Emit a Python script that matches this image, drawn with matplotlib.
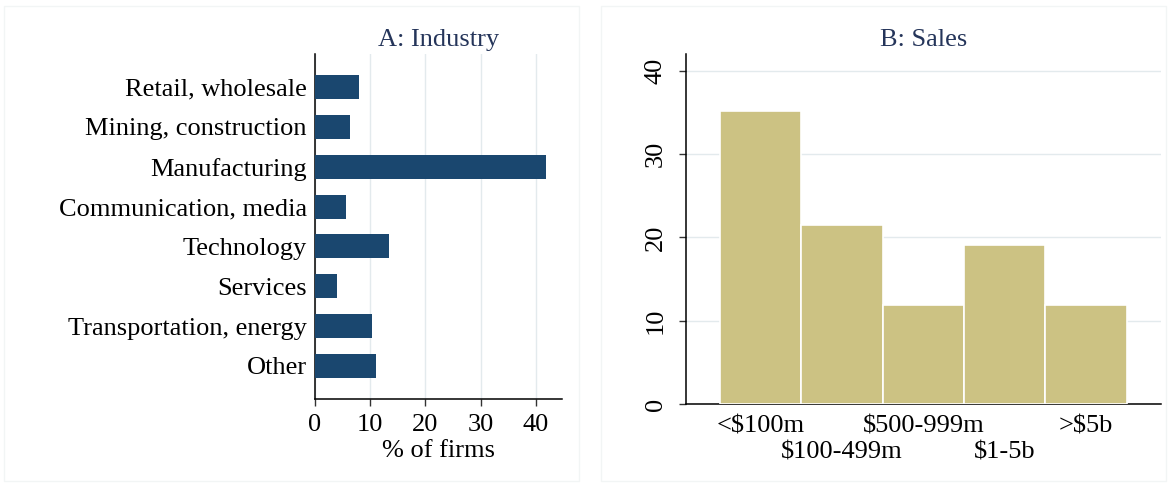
import matplotlib
matplotlib.use("Agg")
import matplotlib.pyplot as plt
from matplotlib.patches import Rectangle

plt.rcParams['font.family'] = ['Liberation Serif', 'DejaVu Serif']
plt.rcParams['text.parse_math'] = False

# Panel A: industry shares (% of firms)
industries = ["Retail, wholesale", "Mining, construction", "Manufacturing",
              "Communication, media", "Technology", "Services",
              "Transportation, energy", "Other"]
industry_pct = [7.9, 6.4, 41.8, 5.6, 13.5, 4.0, 10.3, 11.1]

# Panel B: sales classes
sales_labels = ["<$100m", "$100-499m", "$500-999m", "$1-5b", ">$5b"]
sales_pct = [35.2, 21.5, 11.9, 19.1, 11.9]

navy = "#1a476f"
sand = "#ccc283"
grid_col = "#e3eaed"
title_col = "#25355a"
fs = 19

fig = plt.figure(figsize=(11.7, 4.83), dpi=100)

# faint panel frames
for x0, w in [(0.003, 0.492), (0.514, 0.483)]:
    fig.patches.append(Rectangle((x0, 0.005), w, 0.983, transform=fig.transFigure,
                                 fill=False, edgecolor="#f2f5f5", linewidth=1))

# ---- A: Industry
ax1 = fig.add_axes([0.2692, 0.1739, 0.2111, 0.7143])
ypos = list(range(len(industries)))[::-1]
ax1.barh(ypos, industry_pct, height=0.6, color=navy, zorder=3)
ax1.set_ylim(-0.83, 7.83)
ax1.set_xlim(0, 44.75)
ax1.set_xticks([0, 10, 20, 30, 40])
ax1.set_yticks(ypos)
ax1.set_yticklabels(industries)
ax1.tick_params(axis='y', length=0, pad=6, labelsize=fs)
ax1.tick_params(axis='x', length=5, width=1, pad=6, labelsize=fs, color="#333333")
ax1.xaxis.grid(True, color=grid_col, linewidth=1, zorder=0)
for s in ['top', 'right']:
    ax1.spines[s].set_visible(False)
for s in ['left', 'bottom']:
    ax1.spines[s].set_linewidth(1.1)
ax1.set_xlabel("% of firms", fontsize=fs, labelpad=3)
ax1.set_title("A: Industry", fontsize=fs, color=title_col, pad=6)

# ---- B: Sales
ax2 = fig.add_axes([0.5863, 0.1636, 0.406, 0.7246])
xpos = list(range(1, len(sales_labels) + 1))
ax2.bar(xpos, sales_pct, width=1.0, color=sand, edgecolor="white", linewidth=1.2, zorder=3)
ax2.set_xlim(0.08, 5.92)
ax2.set_ylim(0, 42)
ax2.set_yticks([0, 10, 20, 30, 40])
# alternate category labels on two rows
ax2.set_xticks(xpos[0::2])
ax2.set_xticklabels(sales_labels[0::2])
ax2.set_xticks(xpos[1::2], minor=True)
ax2.set_xticklabels(sales_labels[1::2], minor=True)
ax2.tick_params(axis='x', which='major', length=0, pad=8, labelsize=fs)
ax2.tick_params(axis='x', which='minor', length=0, pad=27, labelsize=fs)
ax2.tick_params(axis='y', length=5, width=1, pad=9, labelsize=fs, color="#333333")
for lab in ax2.get_yticklabels():
    lab.set_rotation(90)
    lab.set_va('center')
ax2.yaxis.grid(True, color=grid_col, linewidth=1, zorder=0)
for s in ['top', 'right']:
    ax2.spines[s].set_visible(False)
for s in ['left', 'bottom']:
    ax2.spines[s].set_linewidth(1.1)
ax2.set_title("B: Sales", fontsize=fs, color=title_col, pad=6)

fig.savefig("out.png", dpi=100)
